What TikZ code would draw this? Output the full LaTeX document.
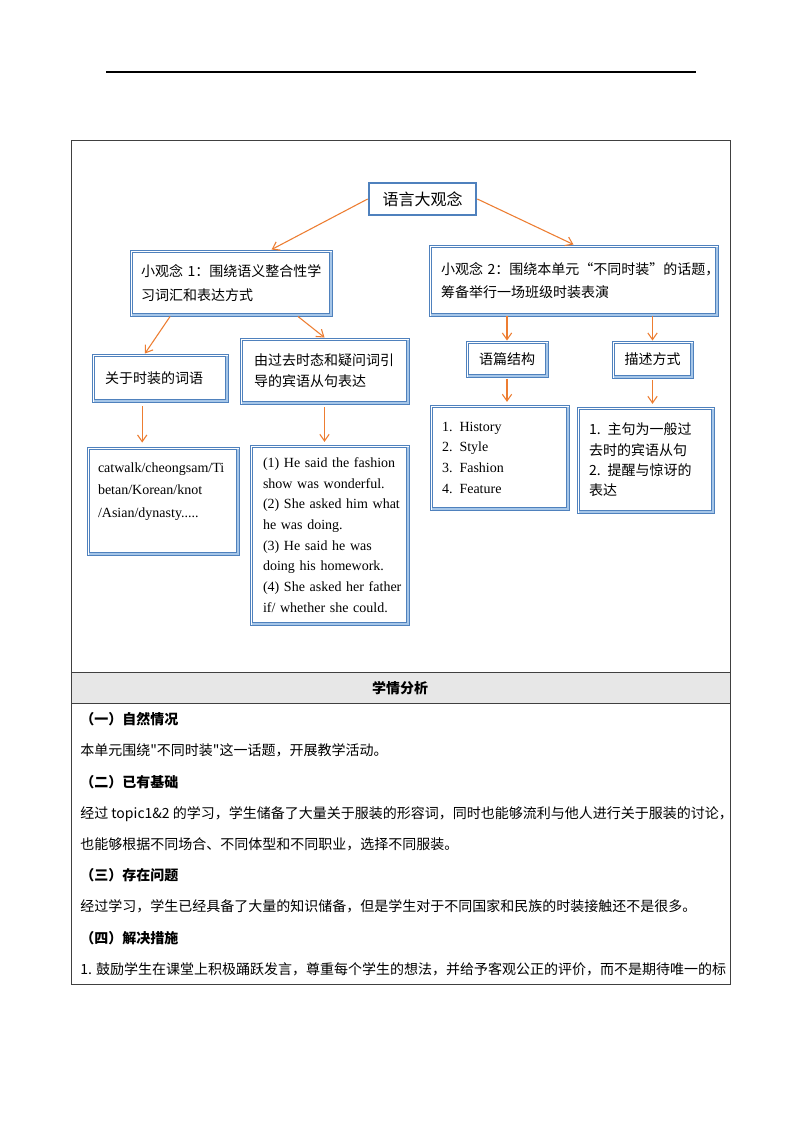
\documentclass[tikz,border=0pt]{standalone}
\usepackage{fontspec}
\setmainfont{Liberation Serif}
\newfontfamily\cjk{Noto Sans CJK SC}
\usepackage{xcolor}
\usetikzlibrary{arrows.meta, positioning, calc}
\definecolor{boxblue}{RGB}{79, 129, 189}
\definecolor{boxlight}{RGB}{166, 198, 232}
\definecolor{arrorange}{RGB}{237, 125, 49}
\definecolor{tabline}{RGB}{64, 64, 64}
\definecolor{headgray}{RGB}{231, 231, 231}
\hyphenpenalty=10000

\begin{document}
\begin{tikzpicture}[
    x=0.75pt, y=-0.75pt,
    >={Straight Barb[length=5pt, width=7pt]},
    % Box Styles
    mainbox/.style={rectangle, draw=boxblue, fill=white, line width=2pt, minimum width=80.25pt, minimum height=24pt, font=\cjk\fontsize{12}{14}\selectfont},
    ideabox/.style={rectangle, draw=boxblue, line width=0.7pt, fill=white, inner xsep=0pt, inner ysep=0pt, align=left},
    innerline/.style={draw=boxblue, line width=0.6pt},
    shadeline/.style={draw=boxlight, line width=1.3pt},
    cjktext/.style={font=\cjk\fontsize{10.5}{#1}\selectfont},
    entext/.style={font=\fontsize{10.5}{#1}\selectfont},
    % Arrow Styles
    flowarrow/.style={->, line width=0.8pt, color=arrorange},
    % Table Styles
    tabrule/.style={draw=tabline, line width=0.75pt},
    bodyline/.style={anchor=base west, inner sep=0pt, font=\cjk\fontsize{10.5}{12}\selectfont},
    headline/.style={anchor=base west, inner sep=0pt, font=\cjk\bfseries\fontsize{10.5}{12}\selectfont}
]
    \useasboundingbox (0,0) rectangle (794,1123);
    \fill[white] (0,0) rectangle (794,1123);

    % =========================================================================
    % 1. PAGE HEADER RULE AND TABLE FRAME
    % =========================================================================
    \draw[line width=1.2pt] (106,72) -- (696,72);
    \fill[headgray] (71,672) rectangle (730,703);
    \draw[tabrule] (71,141) rectangle (730,984);
    \draw[tabrule] (71,672) -- (730,672);
    \draw[tabrule] (71,703) -- (730,703);

    % =========================================================================
    % 2. CONCEPT MAP: TOP LEVELS
    % =========================================================================
    \node (top) [mainbox] at (422.5,199) {语言大观念};

    \node (idea1) [ideabox, cjktext=18pt, minimum width=151.5pt, minimum height=49.5pt, text width=135pt] at (231,283)
      {\mbox{小观念 1：围绕语义整合性学}\\习词汇和表达方式};
    \node (idea2) [ideabox, cjktext=17.25pt, minimum width=216.75pt, minimum height=53.25pt, text width=198.75pt] at (573.5,280.5)
      {\mbox{小观念 2：围绕本单元“不同时装”的话题，}\\筹备举行一场班级时装表演};

    \node (words) [ideabox, cjktext=15pt, minimum width=102pt, minimum height=36pt, text width=82.5pt] at (160,378) {关于时装的词语};
    \node (gramm) [ideabox, cjktext=15.75pt, minimum width=126.75pt, minimum height=49.5pt, text width=105.75pt] at (324.5,371)
      {\mbox{由过去时态和疑问词引}\\导的宾语从句表达};
    \node (struct) [ideabox, cjktext=15pt, minimum width=61.5pt, minimum height=27pt, align=center] at (507,359) {语篇结构};
    \node (descr) [ideabox, cjktext=15pt, minimum width=60.75pt, minimum height=27.75pt, align=center] at (652.5,359.5) {描述方式};

    % =========================================================================
    % 3. CONCEPT MAP: DETAIL BOXES
    % =========================================================================
    \node (vocab) [ideabox, entext=16.9pt, minimum width=114pt, minimum height=81pt, text width=97.5pt] at (163,501)
      {\mbox{catwalk/cheongsam/Ti}\\betan/Korean/knot\\/Asian/dynasty.....\\\mbox{}};
    \node (examp) [ideabox, entext=15.5pt, minimum width=119.25pt, minimum height=135pt, text width=99.75pt] at (329.5,535)
      {\mbox{(1) He said the fashion}\\\mbox{show was wonderful.}\\\mbox{(2) She asked him what}\\\mbox{he was doing.}\\
       \mbox{(3) He said he was}\\\mbox{doing his homework.}\\\mbox{(4) She asked her father}\\\mbox{if/ whether she could.}};
    \node (topics) [ideabox, entext=15.5pt, minimum width=104.25pt, minimum height=78.75pt, text width=86.25pt] at (499.5,457.5)
      {1. History\\2. Style\\3. Fashion\\4. Feature};
    \node (ways) [ideabox, cjktext=15.2pt, minimum width=102.75pt, minimum height=79.5pt, text width=84.75pt] at (645.5,460)
      {\mbox{1. 主句为一般过}\\去时的宾语从句\\\mbox{2. 提醒与惊讶的}\\表达};

    % inner rule and light lower edge of the framed boxes
    \foreach \b in {idea1, idea2, words, gramm, struct, descr, vocab, examp, topics, ways} {
      \draw[shadeline] ([shift={(1.6pt,1.3pt)}]\b.south west) -- ([shift={(-1.3pt,1.3pt)}]\b.south east) -- ([shift={(-1.3pt,-1.6pt)}]\b.north east);
      \draw[innerline] ([shift={(1.8pt,-1.8pt)}]\b.north west) rectangle ([shift={(-2.4pt,2.6pt)}]\b.south east);
    }

    % =========================================================================
    % CONNECTIONS
    % =========================================================================
    \draw[flowarrow] (top.west) -- ($(idea1.north west)!0.7!(idea1.north east)$);
    \draw[flowarrow] (top.east) -- (idea2.north);
    \draw[flowarrow] ($(idea1.south west)!0.2!(idea1.south east)$) -- ($(words.north west)!0.39!(words.north east)$);
    \draw[flowarrow] ($(idea1.south west)!0.83!(idea1.south east)$) -- (gramm.north);
    \draw[flowarrow] (idea2.south -| struct.north) -- (struct.north);
    \draw[flowarrow] (idea2.south -| descr.north) -- (descr.north);

    \coordinate (wordsout) at ($(words.south west)!0.37!(words.south east)$);
    \draw[flowarrow, shorten <=3pt, shorten >=3pt] (wordsout) -- (wordsout |- vocab.north);
    \draw[flowarrow, shorten <=2pt, shorten >=2pt] (gramm.south) -- (gramm.south |- examp.north);
    \draw[flowarrow, shorten <=1pt, shorten >=2pt] (struct.south) -- (struct.south |- topics.north);
    \draw[flowarrow, shorten <=1pt, shorten >=2pt] (descr.south) -- (descr.south |- ways.north);

    % =========================================================================
    % 4. STUDENT ANALYSIS TABLE
    % =========================================================================
    \node (anahead) [font=\cjk\bfseries\fontsize{10.5}{12}\selectfont] at (400,688) {学情分析};

    \node (h1) [headline] at (80,724) {（一）自然情况};
    \node (t1) [bodyline] at (80,755) {本单元围绕"不同时装"这一话题，开展教学活动。};
    \node (h2) [headline] at (80,787) {（二）已有基础};
    \node (t2) [bodyline] at (80,818) {经过 topic1\&2 的学习，学生储备了大量关于服装的形容词，同时也能够流利与他人进行关于服装的讨论，};
    \node (t3) [bodyline] at (80,849) {也能够根据不同场合、不同体型和不同职业，选择不同服装。};
    \node (h3) [headline] at (80,880) {（三）存在问题};
    \node (t4) [bodyline] at (80,911) {经过学习，学生已经具备了大量的知识储备，但是学生对于不同国家和民族的时装接触还不是很多。};
    \node (h4) [headline] at (80,943) {（四）解决措施};
    \node (t5) [bodyline] at (80,974) {1. 鼓励学生在课堂上积极踊跃发言，尊重每个学生的想法，并给予客观公正的评价，而不是期待唯一的标};

\end{tikzpicture}
\end{document}
